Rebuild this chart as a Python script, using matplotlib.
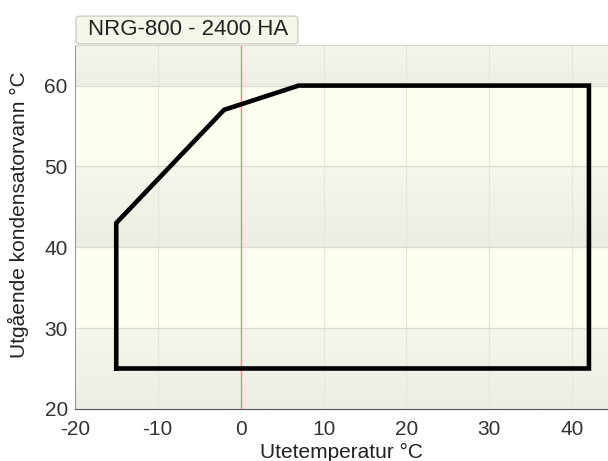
import numpy as np
import matplotlib
matplotlib.use('Agg')
import matplotlib.pyplot as plt
from matplotlib.patches import Rectangle, FancyBboxPatch

# Operating envelope outline
envelope_x = [-15, -15, -2, 7, 42, 42, -15]
envelope_y = [25, 43, 57, 60, 60, 25, 25]

x_ticks = [-20, -10, 0, 10, 20, 30, 40]
y_ticks = [20, 30, 40, 50, 60]
title = 'NRG-800 - 2400 HA'
x_label = 'Utetemperatur °C'
y_label = 'Utgående kondensatorvann °C'

plt.rcParams['font.family'] = ['Liberation Sans', 'DejaVu Sans']

fig = plt.figure(figsize=(6.08, 4.61), dpi=100)
ax = fig.add_axes([0.123, 0.113, 0.877, 0.789])
xmin, xmax = -20, 44.3
ymin, ymax = 20, 65

# background: cream bands alternating with soft grey gradient bands
cream = np.array([253, 253, 240]) / 255
grey_top = np.array([246, 246, 237]) / 255
grey_bot = np.array([237, 237, 227]) / 255
edges = [20, 30, 40, 50, 60, 65]
for i in range(len(edges) - 1):
    y0, y1 = edges[i], edges[i + 1]
    if i % 2 == 0:
        t = np.linspace(0, 1, 64)[:, None]
        grad = grey_bot + (grey_top - grey_bot) * t
        img = np.repeat(grad[:, None, :], 2, axis=1)
        ax.imshow(img, extent=[xmin, xmax, y0, y1], origin='lower',
                  aspect='auto', zorder=0, interpolation='bilinear')
    else:
        ax.add_patch(Rectangle((xmin, y0), xmax - xmin, y1 - y0,
                               facecolor=cream, edgecolor='none', zorder=0))
ax.set_xlim(xmin, xmax)
ax.set_ylim(ymin, ymax)

for xv in x_ticks[1:]:
    ax.axvline(xv, color='#e6e6dc', lw=0.8, zorder=1)
for yv in y_ticks[1:]:
    ax.axhline(yv, color='#dcdcd2', lw=0.9, zorder=1)

ax.axvline(0, color='#f08a8a', lw=1.0, zorder=2)
ax.plot(envelope_x, envelope_y, color='black', lw=3.3, zorder=3,
        solid_joinstyle='miter')

ax.set_xticks(x_ticks)
ax.set_yticks(y_ticks)
ax.set_xticklabels([str(v) for v in x_ticks])
ax.tick_params(axis='both', labelsize=15, length=0, colors='#333333')
ax.tick_params(axis='y', pad=5)
ax.tick_params(axis='x', pad=8)
ax.spines['right'].set_visible(False)
ax.spines['top'].set_color('#d4d4cc')
ax.spines['left'].set_color('#999999')
ax.spines['bottom'].set_color('#555555')

ax.set_xlabel(x_label, fontsize=15, labelpad=3, color='#222222')
ax.set_ylabel(y_label, fontsize=15, color='#222222')
ax.yaxis.set_label_coords(-0.085, 0.535)

# title tab above the plot
tab = FancyBboxPatch((0.125, 0.905), 0.365, 0.06,
                     boxstyle='round,pad=0,rounding_size=0.006',
                     transform=fig.transFigure,
                     facecolor='#f5f5ea', edgecolor='#cfcfc6', lw=1)
fig.patches.append(tab)
fig.text(0.145, 0.935, title, fontsize=16, va='center', ha='left',
         color='#222222')

fig.savefig('out.png', dpi=100)
